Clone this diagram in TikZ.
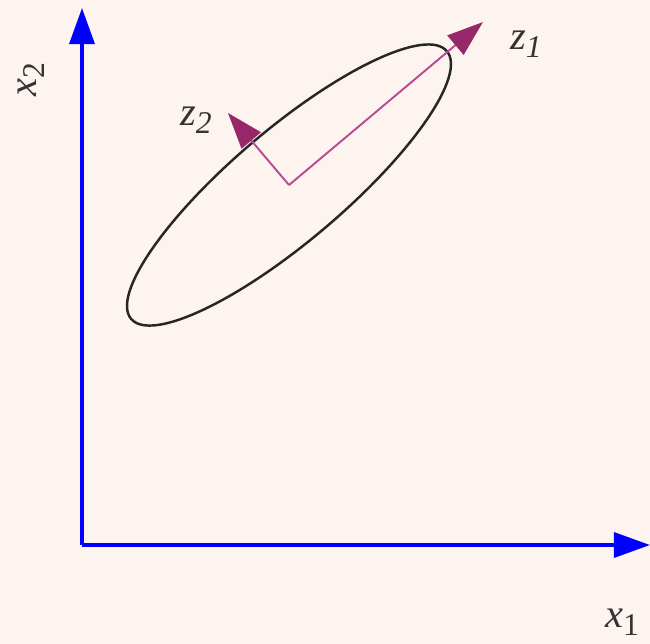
\documentclass[tikz,border=0pt]{standalone}
\usepackage{fontspec}
\setmainfont{Liberation Serif}
\usepackage{xcolor}
\usetikzlibrary{arrows.meta,positioning,calc}
\definecolor{bgpink}{RGB}{253,244,239}
\definecolor{pcmag}{RGB}{150,40,105}
\definecolor{pcline}{RGB}{185,75,145}
\newcommand{\lbl}[2]{\textit{#1}\raisebox{-0.45ex}{\small #2}}
\tikzset{
  axis/.style={-{Triangle[length=3.6mm,width=2.5mm]}, line width=0.95pt, color=blue},
  pcaxis/.style={-{Triangle[length=3.6mm,width=2.5mm,color=pcmag]}, line width=0.55pt, color=pcline},
  cloud/.style={draw=black!85, line width=0.7pt},
  axlabel/.style={font=\fontsize{11.5}{14}\selectfont, inner sep=0pt, color=black!80},
}
\begin{document}
\begin{tikzpicture}[x=0.01cm, y=-0.01cm]

  % background
  \fill[bgpink] (0,0) rectangle (650,644);
  \useasboundingbox (0,0) rectangle (650,644);

  % axes
  \coordinate (o)  at (82,545);
  \coordinate (x1) at (650,545);
  \coordinate (x2) at (82,8);
  \draw[axis] (o) -- (x1);
  \draw[axis] (o) -- (x2);
  \node[axlabel] (x1lbl) at (622,622) {\lbl{x}{1}};
  \node[axlabel, rotate=90] (x2lbl) at (31,80) {\lbl{x}{2}};

  % data ellipse
  \coordinate (c) at (289,185);
  \draw[cloud, rotate around={40.3:(c)}] (c) ellipse [x radius=207, y radius=56];

  % principal directions
  \coordinate (z1) at (483,22);
  \coordinate (z2) at (228,113);
  \draw[pcaxis] (c) -- (z1);
  \draw[pcaxis] (c) -- (z2);
  \node[axlabel] (z1lbl) at (526,44) {\textit{z}\raisebox{-0.45ex}{\small\itshape 1}};
  \node[axlabel] (z2lbl) at (196,120) {\textit{z}\raisebox{-0.45ex}{\small\itshape 2}};

\end{tikzpicture}
\end{document}
